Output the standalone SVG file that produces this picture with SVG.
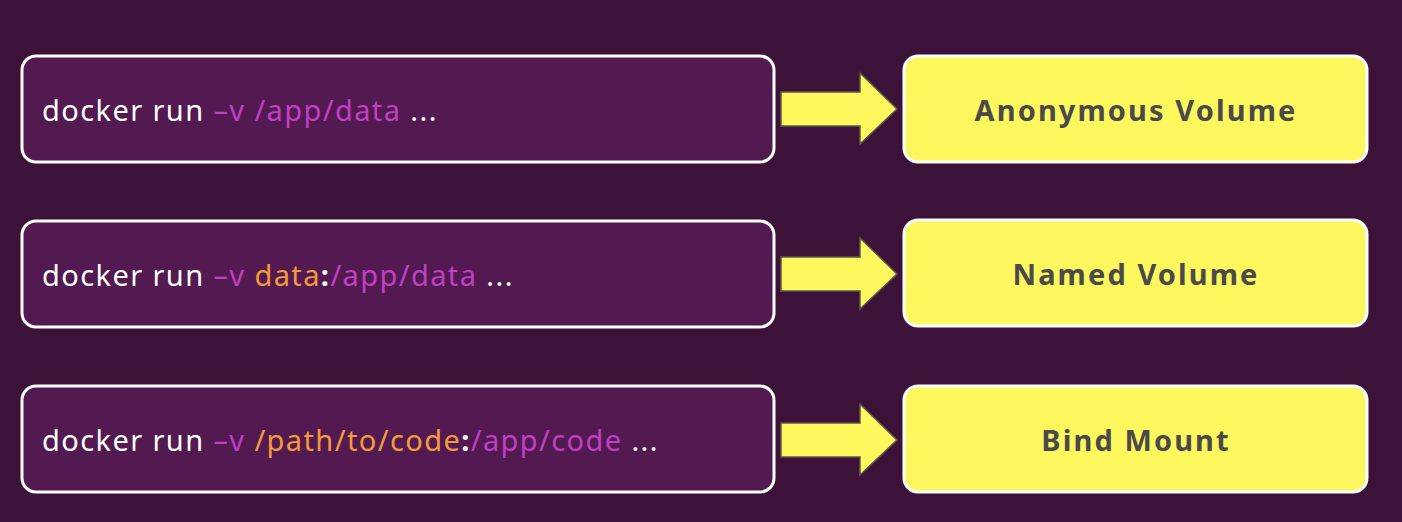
<svg xmlns="http://www.w3.org/2000/svg" width="1402" height="522" viewBox="0 0 1402 522">
<style>
.cmd{fill:#521a50;stroke:#ffffff;stroke-width:3}
.res{fill:#fff75e;stroke:#ffffff;stroke-width:3}
.t{font-family:"Noto Sans",sans-serif;font-size:29px;fill:#ffffff;letter-spacing:1.4px}
.m{fill:#c13fc3}
.o{fill:#f39a3c}
.b{font-weight:bold}
.r{font-family:"Noto Sans",sans-serif;font-size:29px;font-weight:bold;fill:#4a4a4a;text-anchor:middle;letter-spacing:2.1px}
.arr{fill:#fff75e;stroke:#5a5a4a;stroke-width:1.5}
</style>
<rect width="1402" height="522" fill="#3d1238"/>
<g id="cmd1"><rect class="cmd" x="22" y="56" width="752" height="106" rx="14"/>
<text class="t" x="42" y="121">docker run <tspan class="m">–v /app/data</tspan> ...</text></g>
<g id="cmd2"><rect class="cmd" x="22" y="221" width="752" height="106" rx="14"/>
<text class="t" x="42" y="286">docker run <tspan class="m">–v </tspan><tspan class="o">data</tspan><tspan class="b">:</tspan><tspan class="m">/app/data</tspan> ...</text></g>
<g id="cmd3"><rect class="cmd" x="22" y="386" width="752" height="106" rx="14"/>
<text class="t" x="42" y="451">docker run <tspan class="m">–v </tspan><tspan class="o">/path/to/code</tspan><tspan class="b">:</tspan><tspan class="m">/app/code</tspan> ...</text></g>
<g id="res1"><rect class="res" x="904" y="56" width="463" height="106" rx="14"/>
<text class="r" x="1136" y="121">Anonymous Volume</text></g>
<g id="res2"><rect class="res" x="904" y="220" width="463" height="106" rx="14"/>
<text class="r" x="1136" y="285">Named Volume</text></g>
<g id="res3"><rect class="res" x="904" y="386" width="463" height="106" rx="14"/>
<text class="r" x="1136" y="451">Bind Mount</text></g>
<g id="connectors">
<path class="arr" d="M781,92 H860 V73 L897,109 L860,144 V126 H781 Z"/>
<path class="arr" d="M781,257 H860 V238 L897,274 L860,309 V291 H781 Z"/>
<path class="arr" d="M781,423 H860 V404 L897,440 L860,475 V457 H781 Z"/>
</g>
</svg>
